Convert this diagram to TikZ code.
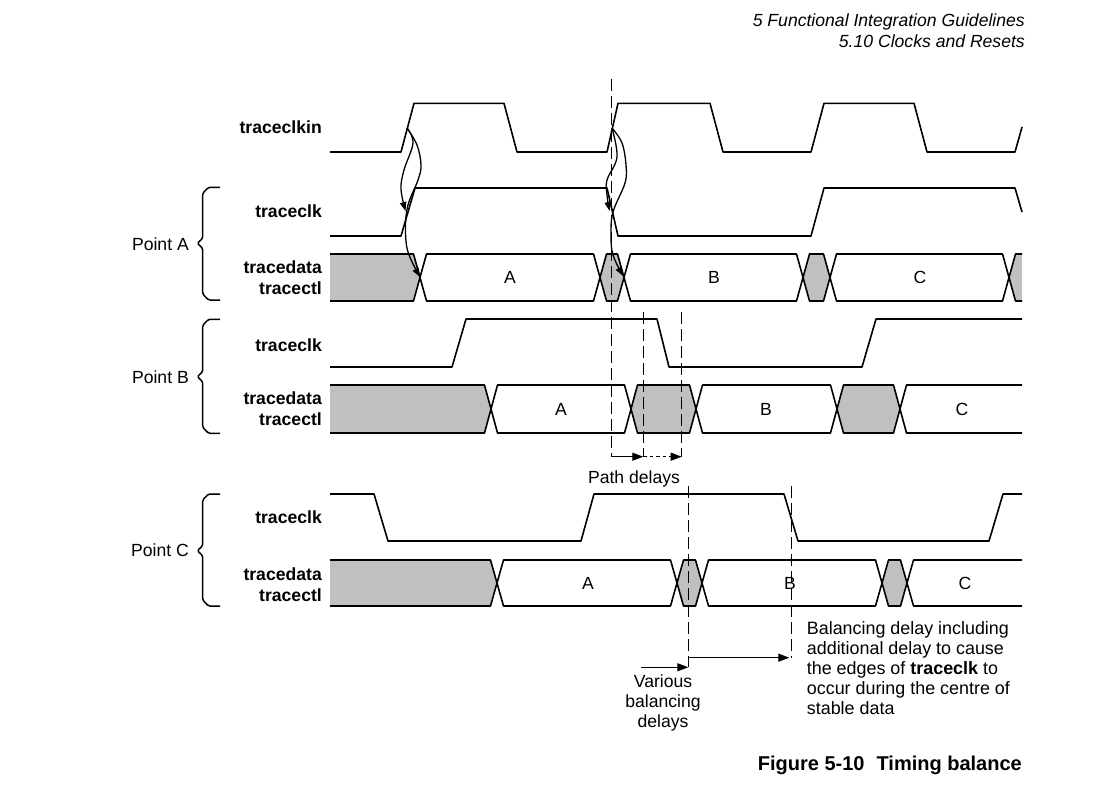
\documentclass[tikz,border=0pt]{standalone}
\usepackage{fontspec}
\setmainfont{Liberation Sans}
\usetikzlibrary{arrows.meta}
\definecolor{busgray}{RGB}{192,192,192}
\newcommand\hwid{6.5}
\newcommand\fs{\fontsize{17.6}{20}\selectfont}
% middle bus segment: left x, right x, top y, bottom y, fill
\newcommand\busseg[5]{%
  \filldraw[bus, fill=#5] (#1,{(#3+#4)/2}) -- ({#1+\hwid},#3) -- ({#2-\hwid},#3) -- (#2,{(#3+#4)/2}) -- ({#2-\hwid},#4) -- ({#1+\hwid},#4) -- cycle;}
% first bus segment: right x, top y, bottom y, fill
\newcommand\busfirst[4]{%
  \fill[#4] (330,#2) -- ({#1-\hwid},#2) -- (#1,{(#2+#3)/2}) -- ({#1-\hwid},#3) -- (330,#3) -- cycle;
  \draw[bus] (330,#2) -- ({#1-\hwid},#2) -- (#1,{(#2+#3)/2}) -- ({#1-\hwid},#3) -- (330,#3);}
% last bus segment: left x, end x, top y, bottom y, fill
\newcommand\buslast[5]{%
  \fill[#5] (#1,{(#3+#4)/2}) -- ({#1+\hwid},#3) -- (#2,#3) -- (#2,#4) -- ({#1+\hwid},#4) -- cycle;
  \draw[bus] (#2,#3) -- ({#1+\hwid},#3) -- (#1,{(#3+#4)/2}) -- ({#1+\hwid},#4) -- (#2,#4);}
% brace: top y, tip y, bottom y
\newcommand\sigbrace[3]{%
  \draw[bracestyle] (220,#1) -- (208.5,#1) -- (202.7,{#1+6}) -- (202.7,{#2-5}) -- (197.3,#2) -- (202.7,{#2+5}) -- (202.7,{#3-6}) -- (208.5,#3) -- (220,#3);}

\begin{document}
\begin{tikzpicture}[x=1pt,y=-1pt, line join=round,
  wave/.style={line width=1.6pt},
  bus/.style={line width=1.6pt},
  bracestyle/.style={line width=1.5pt, rounded corners=1.5pt},
  vdash/.style={line width=1.3pt, dash pattern=on 12pt off 5pt},
  sdash/.style={line width=1.3pt, dash pattern=on 3.5pt off 3pt},
  tip/.style={-{Triangle[length=11pt,width=8pt]}},
  ctip/.style={line width=1.3pt, -{Triangle[length=9pt,width=6.5pt]}},
  every node/.style={inner sep=0pt, font=\fs},
  lbl/.style={anchor=east, font=\fs\bfseries},
  ptlbl/.style={anchor=east, font=\fs},
  note/.style={anchor=base west, font=\fontsize{17.9}{20}\selectfont}]
\useasboundingbox (0,0) rectangle (1106,792);

% header
\node[anchor=base east, font=\fs\itshape] (h1) at (1025,26.7) {5 Functional Integration Guidelines};
\node[anchor=base east, font=\fs\itshape] (h2) at (1025,47.3) {5.10 Clocks and Resets};

% signal labels
\node[lbl] (lclkin) at (322,127) {traceclkin};
\node[lbl] (lclkA) at (322,211.7) {traceclk};
\node[lbl] (ldA1) at (322,267.3) {tracedata};
\node[lbl] (ldA2) at (322,288.3) {tracectl};
\node[lbl] (lclkB) at (322,345) {traceclk};
\node[lbl] (ldB1) at (322,398.3) {tracedata};
\node[lbl] (ldB2) at (322,419.3) {tracectl};
\node[lbl] (lclkC) at (322,517.7) {traceclk};
\node[lbl] (ldC1) at (322,574.3) {tracedata};
\node[lbl] (ldC2) at (322,595) {tracectl};

% point labels and braces
\node[ptlbl] (pA) at (189,244) {Point A};
\node[ptlbl] (pB) at (189,377) {Point B};
\node[ptlbl] (pC) at (189,550.7) {Point C};
\sigbrace{187.3}{243.3}{300}
\sigbrace{319.3}{376.7}{433.3}
\sigbrace{494}{550.7}{606}

% traceclkin
\draw[wave] (330,152) -- (401,152) -- (414,103.3) -- (504,103.3) -- (517,152) -- (607,152) -- (618,103.3) -- (710,103.3) -- (723,152) -- (811,152) -- (824,103.3) -- (914,103.3) -- (927,152) -- (1015,152) -- (1022,127);
% traceclk point A
\draw[wave] (330,236) -- (401,236) -- (415,188) -- (607,188) -- (618,236) -- (811,236) -- (824,188) -- (1015,188) -- (1022,212);
% traceclk point B
\draw[wave] (330,367) -- (452,367) -- (466,319) -- (657,319) -- (669,367) -- (862,367) -- (876,319) -- (1022,319);
% traceclk point C
\draw[wave] (330,494) -- (374,494) -- (388,541) -- (581,541) -- (594,494) -- (784,494) -- (798,541) -- (989,541) -- (1003,494) -- (1022,494);

% data point A
\busfirst{420}{254}{301}{busgray}
\busseg{420}{600}{254}{301}{white}
\busseg{600}{624}{254}{301}{busgray}
\busseg{624}{803}{254}{301}{white}
\busseg{803}{830}{254}{301}{busgray}
\busseg{830}{1009}{254}{301}{white}
\buslast{1009}{1022}{254}{301}{busgray}
\node (dA1) at (510,277.5) {A};
\node (dA2) at (714,277.5) {B};
\node (dA3) at (920,277.5) {C};

% data point B
\busfirst{491}{385}{433}{busgray}
\busseg{491}{631}{385}{433}{white}
\busseg{631}{696}{385}{433}{busgray}
\busseg{696}{837}{385}{433}{white}
\busseg{837}{900}{385}{433}{busgray}
\buslast{900}{1022}{385}{433}{white}
\node (dB1) at (561,409) {A};
\node (dB2) at (766,409) {B};
\node (dB3) at (962,409) {C};

% data point C
\busfirst{497}{560}{606}{busgray}
\busseg{497}{677}{560}{606}{white}
\busseg{677}{702}{560}{606}{busgray}
\busseg{702}{882}{560}{606}{white}
\busseg{882}{907}{560}{606}{busgray}
\buslast{907}{1022}{560}{606}{white}
\node (dC1) at (588,583) {A};
\node (dC2) at (790,583) {B};
\node (dC3) at (965,583) {C};

% causal curves from traceclkin edges
\coordinate (e1) at (407,128);
\coordinate (e1a) at (405.5,211);
\coordinate (e1b) at (420,277);
\coordinate (e2) at (612,128);
\coordinate (e2a) at (609.5,211);
\coordinate (e2b) at (623,276);
\draw[ctip] plot[smooth, tension=0.6] coordinates {(e1) (413,143) (404,170) (401,189) (e1a)};
\draw[ctip] plot[smooth, tension=0.6] coordinates {(e1) (417,145) (421,165) (418,180) (408,205) (405.5,228) (408,252) (e1b)};
\draw[ctip] plot[smooth, tension=0.6] coordinates {(e2) (617,157) (607,180) (607,195) (e2a)};
\draw[ctip] plot[smooth, tension=0.6] coordinates {(e2) (622,143) (626,165) (625,183) (613,212) (611,235) (613,255) (e2b)};

% path delays
\coordinate (d1t) at (611.7,79);
\coordinate (d1b) at (611.7,456.7);
\coordinate (d2t) at (643.3,312);
\coordinate (d2b) at (643.3,456.7);
\coordinate (d3t) at (681.7,312);
\coordinate (d3b) at (681.7,456.7);
\draw[vdash] (d1t) -- (d1b);
\draw[vdash] (d2t) -- (d2b);
\draw[vdash] (d3t) -- (d3b);
\draw[line width=1.3pt, tip] (d1b) -- (d2b);
\draw[sdash, tip] (d2b) -- (d3b);
\node[anchor=base] (pd) at (634,483.3) {Path delays};

% balancing delays
\coordinate (d4t) at (688.3,486);
\coordinate (d4b) at (688.3,667.3);
\coordinate (d5t) at (791.3,486);
\coordinate (d5b) at (791.3,657.7);
\coordinate (s4) at (640.7,667.3);
\coordinate (s5) at (688.3,657.7);
\draw[vdash] (d4t) -- (d4b);
\draw[vdash] (d5t) -- (d5b);
\draw[line width=1.3pt, tip] (s4) -- (d4b);
\draw[line width=1.3pt, tip] (s5) -- ([xshift=-2pt]d5b);
\node[anchor=base] (vb1) at (663,687.7) {Various};
\node[anchor=base] (vb2) at (663,707.7) {balancing};
\node[anchor=base] (vb3) at (663,727.7) {delays};

\node[note] (bt1) at (806.7,634) {Balancing delay including};
\node[note] (bt2) at (806.7,654) {additional delay to cause};
\node[note] (bt3) at (806.7,674) {the edges of \textbf{traceclk} to};
\node[note] (bt4) at (806.7,694) {occur during the centre of};
\node[note] (bt5) at (806.7,714) {stable data};

% caption
\node[anchor=base east, font=\fontsize{20}{22}\selectfont\bfseries] (cap) at (1022,770.5) {Figure 5-10\hspace{0.6em}Timing balance};
\end{tikzpicture}
\end{document}
